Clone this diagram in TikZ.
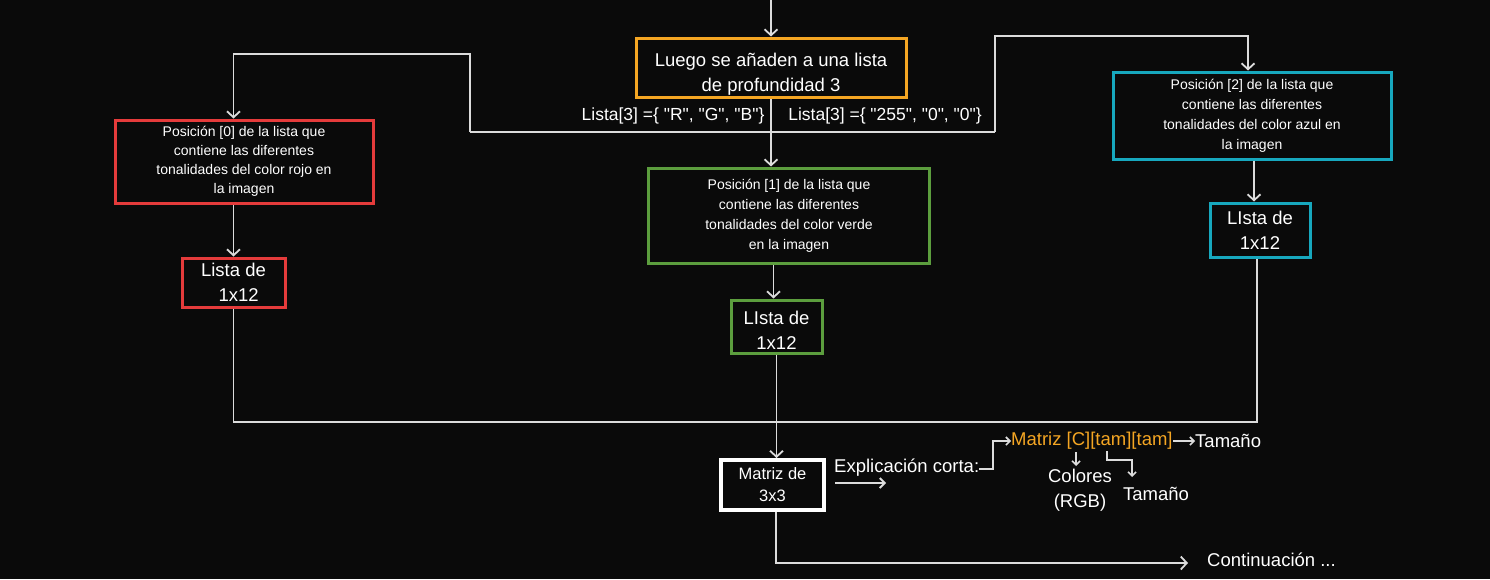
\documentclass[tikz,border=0pt]{standalone}
\usepackage{fontspec}
\setmainfont{Liberation Sans}[Ligatures=TeXOff]
\usetikzlibrary{arrows.meta,calc}
\definecolor{bg}{HTML}{0A0A0A}
\definecolor{lineg}{HTML}{DCDCDC}
\definecolor{cOrange}{HTML}{F5A623}
\definecolor{cRed}{HTML}{E53B3B}
\definecolor{cGreen}{HTML}{5C9E3E}
\definecolor{cBlue}{HTML}{17A8BE}
\tikzset{
  conn/.style={draw=lineg, line width=1.8pt},
  arr/.style={conn, -{Straight Barb[length=6pt,width=13pt,line width=1.8pt]}},
  sarr/.style={conn, -{Straight Barb[length=4pt,width=8pt,line width=1.6pt]}},
  bigbox/.style={draw, line width=3pt, fill=bg, text=white, align=center, inner sep=0pt,
     font=\fontsize{14}{20}\selectfont},
  smallbox/.style={draw, line width=3pt, fill=bg, text=white, align=center, inner sep=0pt,
     font=\fontsize{18.5}{25}\selectfont},
  txt/.style={text=white, inner sep=0pt, font=\fontsize{18.5}{25}\selectfont},
}
\begin{document}
\begin{tikzpicture}[x=1pt,y=-1pt]
\useasboundingbox (0,0) rectangle (1490,579);
\fill[bg] (0,0) rectangle (1490,579);

% main boxes
\node[smallbox, draw=cOrange, minimum width=270pt, minimum height=59pt] (orange) at (771,67.5)
  {\rule{0pt}{27pt}Luego se añaden a una lista\\de profundidad 3};
\node[bigbox, draw=cRed, minimum width=258pt, minimum height=83pt,
  font=\fontsize{14}{19}\selectfont] (red) at (244,161.5)
  {Posición [0] de la lista que\\contiene las diferentes\\tonalidades del color rojo en\\la imagen};
\node[smallbox, draw=cRed, minimum width=103pt, minimum height=49pt] (redsmall) at (233.5,282.5)
  {Lista de\\\ \ 1x12};
\node[bigbox, draw=cGreen, minimum width=281pt, minimum height=95pt] (green) at (789,215.5)
  {Posición [1] de la lista que\\contiene las diferentes\\tonalidades del color verde\\en la imagen};
\node[smallbox, draw=cGreen, minimum width=91pt, minimum height=53pt] (greensmall) at (776.5,326.5)
  {\rule{0pt}{20pt}LIsta de\\1x12};
\node[bigbox, draw=cBlue, minimum width=278pt, minimum height=87pt] (blue) at (1252,115.5)
  {Posición [2] de la lista que\\contiene las diferentes\\tonalidades del color azul en\\la imagen};
\node[smallbox, draw=cBlue, minimum width=100pt, minimum height=54pt] (bluesmall) at (1260,230)
  {LIsta de\\1x12};
\node[smallbox, draw=white, line width=4pt, minimum width=103pt, minimum height=50pt,
  font=\fontsize{16.5}{22}\selectfont] (matriz) at (772.5,485) {Matriz de\\3x3};

% list labels
\node[txt, font=\fontsize{17.5}{20}\selectfont] (lr) at (673,116) {Lista[3] =\{ "R", "G", "B"\}};
\node[txt, font=\fontsize{17.5}{20}\selectfont] (ln) at (885,116) {Lista[3] =\{ "255", "0", "0"\}};

% top arrow
\coordinate (top) at (771,0);
\draw[arr] (top) -- (orange.north);
\draw[arr] (orange.south) -- (orange.south |- green.north);

% branch lines
\coordinate (hl) at (470,132);
\coordinate (hr) at (995,132);
\coordinate (hlu) at (470,54);
\coordinate (hru) at (995,36);
\draw[conn] (hl) -- (hr);
\draw[arr] (hl) -- (hlu) -| (redsmall.north |- red.north);
\draw[arr] (hr) -- (hru) -| ([xshift=-4pt]blue.north);

% down arrows
\draw[arr] (redsmall.north |- red.south) -- (redsmall.north);
\draw[arr] ([xshift=-3pt]greensmall.north |- green.south) -- ([xshift=-3pt]greensmall.north);
\draw[arr] ([xshift=-6pt]bluesmall.north |- blue.south) -- ([xshift=-6pt]bluesmall.north);

% bottom collection line
\coordinate (bl) at (233.5,422);
\draw[conn] (redsmall.south) -- (bl) -| ([xshift=-3pt]bluesmall.south);
\draw[arr] (greensmall.south) -- (greensmall.south |- matriz.north);

% continuation
\coordinate (cd) at (776,563);
\coordinate (ce) at (1188,563);
\draw[arr] (matriz.south -| cd) -- (cd) -- (ce);
\node[txt, anchor=west] (cont) at (1207,560) {Continuación ...};

% explanation
\node[txt, anchor=west] (expl) at (834,468) {Explicación corta:};
\coordinate (ea1) at (835,483);
\coordinate (ea2) at (886,483);
\draw[conn, -{Straight Barb[length=5pt,width=10pt,line width=1.8pt]}] (ea1) -- (ea2);
\node[txt, anchor=west, text=cOrange] (mat) at (1011,441) {Matriz [C][tam][tam]};
\coordinate (e1) at (993,469);
\draw[sarr] (expl.east |- e1) -- (e1) |- (mat.west);
\node[txt, anchor=west] (tam1) at (1195,441) {Tamaño};
\draw[sarr] (mat.east) -- (tam1.west);
\node[txt, align=center] (col) at (1080,490) {Colores\\(RGB)};
\coordinate (cA) at (1076,452);
\draw[sarr] (cA) -- (1076,466);
\node[txt] (tam2) at (1156,494) {Tamaño};
\coordinate (tA) at (1107,451);
\coordinate (tB) at (1132,460);
\coordinate (tC) at (1132,477);
\draw[sarr] (tA) |- (tB) -- (tC);
\end{tikzpicture}
\end{document}
